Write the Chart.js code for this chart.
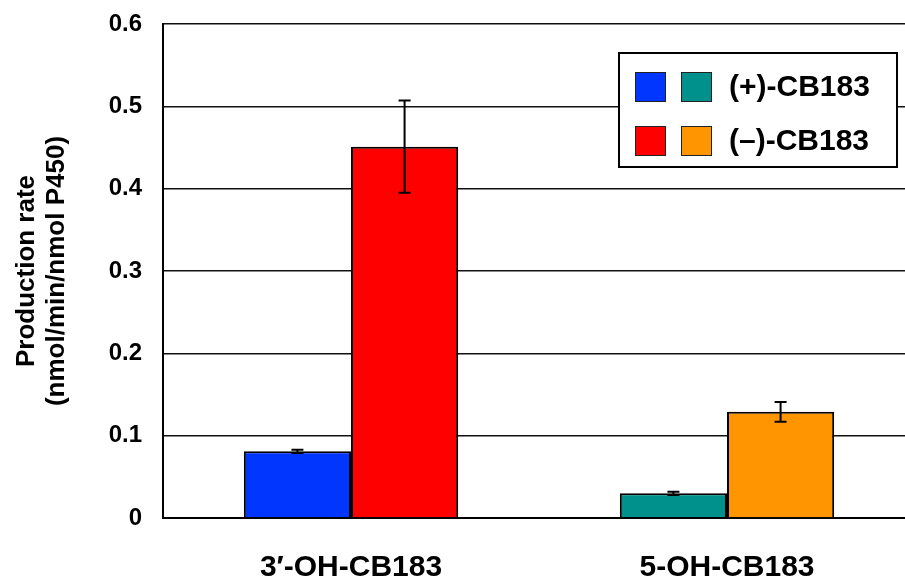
<!DOCTYPE html>
<html>
<head>
<meta charset="utf-8">
<script src="https://cdn.jsdelivr.net/npm/chart.js@4.4.1/dist/chart.umd.min.js"></script>
<style>
  html, body { margin: 0; padding: 0; background: #fff; }
  #wrap { width: 905px; height: 581px; overflow: hidden; }
</style>
</head>
<body>
<div id="wrap"><canvas id="chart" width="920" height="581"></canvas></div>
<script>
// data
const categories = ['3\u2032-OH-CB183', '5-OH-CB183'];
const seriesLabels = ['(+)-CB183', '(\u2013)-CB183'];
const plusValues = [0.081, 0.030];
const plusErrors = [0.002, 0.002];
const minusValues = [0.451, 0.129];
const minusErrors = [0.056, 0.012];
const yTickLabels = ['0', '0.1', '0.2', '0.3', '0.4', '0.5', '0.6'];
const yTitle = ['Production rate', '(nmol/min/nmol P450)'];

const FONT = '"Liberation Sans", Arial, Helvetica, sans-serif';

// error bars, drawn from the bar elements and the y scale
const errorBars = {
  id: 'errorBars',
  afterDatasetsDraw(chart) {
    const ctx = chart.ctx;
    const y = chart.scales.y;
    ctx.save();
    ctx.strokeStyle = '#000';
    ctx.lineWidth = 2;
    chart.data.datasets.forEach((ds, i) => {
      const meta = chart.getDatasetMeta(i);
      meta.data.forEach((bar, j) => {
        const v = ds.data[j], e = ds.errors[j];
        const top = y.getPixelForValue(v + e);
        const bot = y.getPixelForValue(v - e);
        const half = 6;
        ctx.beginPath();
        ctx.moveTo(bar.x, top); ctx.lineTo(bar.x, bot);
        ctx.moveTo(bar.x - half, top); ctx.lineTo(bar.x + half, top);
        ctx.moveTo(bar.x - half, bot); ctx.lineTo(bar.x + half, bot);
        ctx.stroke();
      });
    });
    ctx.restore();
  }
};

// boxed legend with two swatches per row
const boxLegend = {
  id: 'boxLegend',
  afterDraw(chart) {
    const ctx = chart.ctx;
    ctx.save();
    ctx.fillStyle = '#fff';
    ctx.fillRect(619, 53, 278, 114);
    ctx.strokeStyle = '#000';
    ctx.lineWidth = 2;
    ctx.strokeRect(619, 53, 278, 114);
    chart.data.datasets.forEach((ds, i) => {
      const cy = 87 + i * 54;
      ds.backgroundColor.forEach((c, k) => {
        const x = 635 + k * 46;
        ctx.fillStyle = c;
        ctx.fillRect(x, cy - 15, 31, 30);
        ctx.strokeStyle = '#222';
        ctx.lineWidth = 1;
        ctx.strokeRect(x + 0.5, cy - 14.5, 30, 29);
      });
      ctx.fillStyle = '#000';
      ctx.font = 'bold 30px ' + FONT;
      ctx.textBaseline = 'middle';
      ctx.textAlign = 'left';
      ctx.fillText(ds.label, 729, cy + 1);
    });
    ctx.restore();
  }
};

new Chart(document.getElementById('chart'), {
  type: 'bar',
  data: {
    labels: categories,
    datasets: [
      {
        label: seriesLabels[0],
        data: plusValues,
        errors: plusErrors,
        backgroundColor: ['#0036ff', '#00918c'],
        borderColor: '#000',
        borderWidth: 2
      },
      {
        label: seriesLabels[1],
        data: minusValues,
        errors: minusErrors,
        backgroundColor: ['#ff0000', '#ff9500'],
        borderColor: '#000',
        borderWidth: 2
      }
    ]
  },
  options: {
    responsive: false,
    animation: false,
    layout: { padding: { top: 24, right: 5, bottom: 0, left: 0 } },
    categoryPercentage: 0.57,
    barPercentage: 1.0,
    plugins: {
      legend: { display: false },
      tooltip: { enabled: false }
    },
    scales: {
      x: {
        grid: { display: false },
        border: { display: true, color: '#000', width: 2 },
        ticks: {
          color: '#000',
          padding: 24,
          font: { family: FONT, size: 30, weight: 'bold' }
        },
        afterFit(s) { s.height = 63; s.paddingLeft = 0; s.paddingRight = 0; }
      },
      y: {
        min: 0,
        max: 0.6,
        grid: { color: '#111', lineWidth: 1.5, drawTicks: false },
        border: { display: true, color: '#000', width: 2 },
        ticks: {
          stepSize: 0.1,
          color: '#000',
          padding: 21,
          font: { family: FONT, size: 24, weight: 'bold' },
          callback: (v, i) => yTickLabels[i]
        },
        title: {
          display: true,
          text: yTitle,
          color: '#000',
          padding: { top: 12, bottom: 0 },
          font: { family: FONT, size: 26, weight: 'bold', lineHeight: 1.15 }
        },
        afterFit(s) { s.width = 163; s.paddingTop = 0; s.paddingBottom = 0; }
      }
    }
  },
  plugins: [errorBars, boxLegend]
});
</script>
</body>
</html>
